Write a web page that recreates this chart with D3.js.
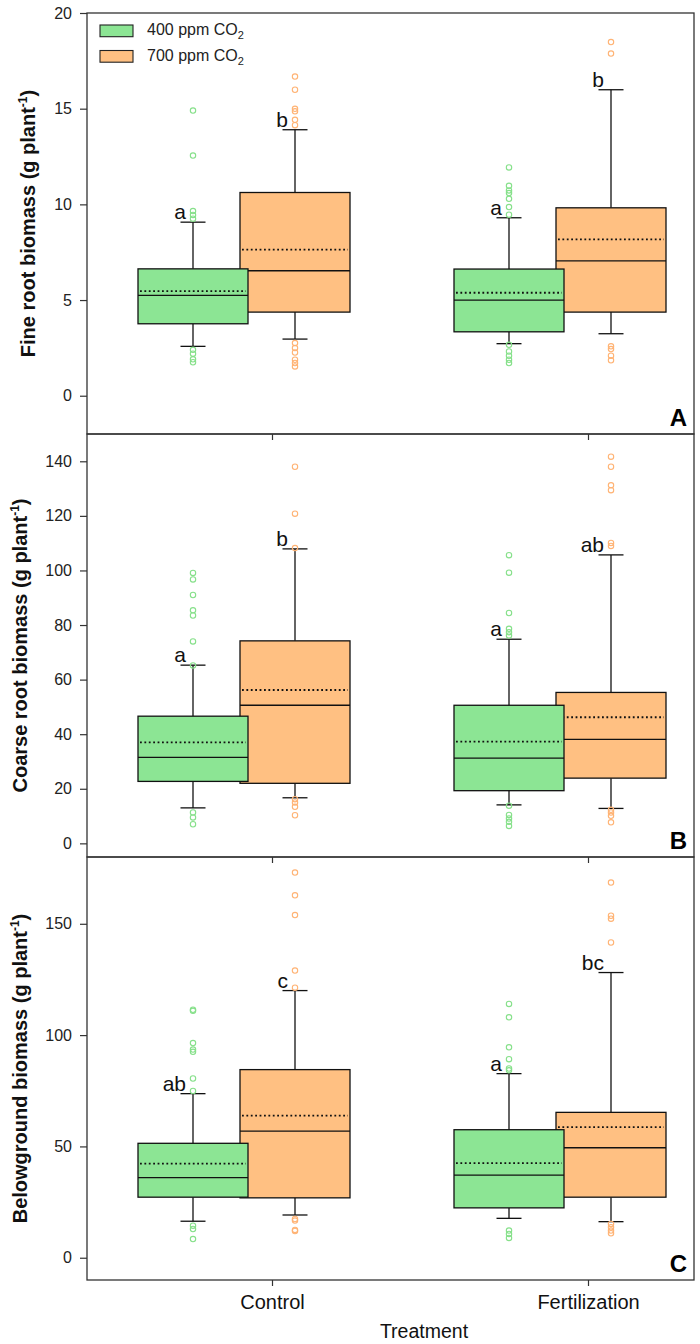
<!DOCTYPE html>
<html><head><meta charset="utf-8">
<script src="https://cdnjs.cloudflare.com/ajax/libs/d3/7.8.5/d3.min.js"></script>
<style>
html,body{margin:0;padding:0;background:#fff;}
svg{display:block;font-family:"Liberation Sans",Arial,sans-serif;}
</style></head>
<body><svg id="chart" width="700" height="1344"></svg>
<script>
// ---------- DATA ----------
const categories = ["Control", "Fertilization"];
const groups = ["400 ppm CO2", "700 ppm CO2"];

// Panel A: fine root biomass. each box: [category, group, lowWhisker, q1, median, q3, highWhisker, mean, letter]
const fineBoxes = [
  ["Control", "700 ppm CO2", 2.96, 4.37, 6.53, 10.62, 13.9, 7.63, "b"],
  ["Control", "400 ppm CO2", 2.58, 3.76, 5.24, 6.63, 9.07, 5.47, "a"],
  ["Fertilization", "700 ppm CO2", 3.24, 4.37, 7.05, 9.82, 15.99, 8.17, "b"],
  ["Fertilization", "400 ppm CO2", 2.72, 3.34, 5.0, 6.62, 9.3, 5.38, "a"]
];
const fineOutliers = [
  ["Control", "400 ppm CO2", [14.9, 12.55, 9.65, 9.45, 9.25, 2.4, 2.2, 1.9, 1.75]],
  ["Control", "700 ppm CO2", [16.68, 15.99, 14.99, 14.86, 14.42, 14.14, 2.75, 2.49, 2.26, 1.88, 1.71, 1.53]],
  ["Fertilization", "400 ppm CO2", [11.93, 10.97, 10.73, 10.59, 10.29, 9.86, 9.46, 2.66, 2.31, 2.09, 1.88, 1.71]],
  ["Fertilization", "700 ppm CO2", [18.48, 17.88, 2.58, 2.44, 2.09, 1.85]]
];

// Panel B: coarse root biomass
const coarseBoxes = [
  ["Control", "700 ppm CO2", 16.7, 22.0, 50.6, 74.2, 107.9, 56.2, "b"],
  ["Control", "400 ppm CO2", 13.0, 22.7, 31.5, 46.6, 65.3, 37.0, "a"],
  ["Fertilization", "700 ppm CO2", 12.8, 23.9, 38.1, 55.3, 105.7, 46.2, "ab"],
  ["Fertilization", "400 ppm CO2", 14.1, 19.3, 31.2, 50.6, 74.8, 37.3, "a"]
];
const coarseOutliers = [
  ["Control", "400 ppm CO2", [99.1, 96.7, 91.0, 85.4, 83.5, 74.0, 65.2, 11.3, 9.5, 7.0]],
  ["Control", "700 ppm CO2", [138.0, 120.8, 108.2, 16.2, 15.0, 13.4, 10.3]],
  ["Fertilization", "400 ppm CO2", [105.6, 99.2, 84.4, 78.6, 77.4, 76.2, 13.8, 10.4, 9.1, 7.9, 6.4]],
  ["Fertilization", "700 ppm CO2", [141.7, 138.0, 131.2, 129.4, 110.1, 109.0, 12.3, 11.3, 10.1, 7.7]]
];

// Panel C: belowground biomass
const belowBoxes = [
  ["Control", "700 ppm CO2", 19.2, 26.9, 56.9, 84.5, 120.0, 63.8, "c"],
  ["Control", "400 ppm CO2", 16.4, 27.2, 36.0, 51.4, 73.7, 42.3, "ab"],
  ["Fertilization", "700 ppm CO2", 16.2, 27.2, 49.4, 65.3, 128.1, 58.7, "bc"],
  ["Fertilization", "400 ppm CO2", 17.7, 22.4, 37.1, 57.5, 82.7, 42.5, "a"]
];
const belowOutliers = [
  ["Control", "400 ppm CO2", [111.4, 110.9, 96.4, 93.5, 92.5, 80.5, 74.9, 14.4, 12.9, 8.4]],
  ["Control", "700 ppm CO2", [173.0, 162.8, 153.9, 129.0, 121.3, 17.4, 16.7, 12.5, 12.0]],
  ["Fertilization", "400 ppm CO2", [114.0, 108.0, 94.5, 89.2, 85.0, 84.2, 12.2, 10.7, 8.9]],
  ["Fertilization", "700 ppm CO2", [168.5, 153.6, 152.3, 141.6, 15.2, 13.7, 12.2, 11.0]]
];

const fineTicks = [0, 5, 10, 15, 20];
const coarseTicks = [0, 20, 40, 60, 80, 100, 120, 140];
const belowTicks = [0, 50, 100, 150];

const panelLetters = ["A", "B", "C"];
const yTitles = ["Fine root biomass (g plant", "Coarse root biomass (g plant", "Belowground biomass (g plant"];
const xTitle = "Treatment";

// ---------- LAYOUT ----------
const svg = d3.select("#chart");
const frameL = 87, frameR = 694;
const fills = {"400 ppm CO2": "#8ce594", "700 ppm CO2": "#ffc082"};
const outlierColors = {"400 ppm CO2": "#86e08a", "700 ppm CO2": "#ffb374"};
const groupOffset = {"400 ppm CO2": -79, "700 ppm CO2": 23};
const boxW = 110, capW = 25;

const x = d3.scalePoint().domain(categories).range([272, 588]);

const panels = [
  {boxes: fineBoxes, outs: fineOutliers, ticks: fineTicks, domain: [-2, 20], top: 13, bottom: 434, titleX: 35},
  {boxes: coarseBoxes, outs: coarseOutliers, ticks: coarseTicks, domain: [-5, 150], top: 434, bottom: 857, titleX: 27},
  {boxes: belowBoxes, outs: belowOutliers, ticks: belowTicks, domain: [-10, 180], top: 857, bottom: 1280, titleX: 27}
];

panels.forEach((p, i) => {
  const y = d3.scaleLinear().domain(p.domain).range([p.bottom, p.top]);
  const g = svg.append("g");

  // boxes (orange first, then green on top)
  p.boxes.forEach(b => {
    const [cat, grp, lo, q1, med, q3, hi, mean, letter] = b;
    const cx = x(cat) + groupOffset[grp];
    const bg = g.append("g");
    bg.append("line").attr("x1", cx).attr("x2", cx).attr("y1", y(q3)).attr("y2", y(hi)).attr("stroke", "#111").attr("stroke-width", 1.3);
    bg.append("line").attr("x1", cx).attr("x2", cx).attr("y1", y(q1)).attr("y2", y(lo)).attr("stroke", "#111").attr("stroke-width", 1.3);
    bg.append("line").attr("x1", cx - capW / 2).attr("x2", cx + capW / 2).attr("y1", y(hi)).attr("y2", y(hi)).attr("stroke", "#111").attr("stroke-width", 1.3);
    bg.append("line").attr("x1", cx - capW / 2).attr("x2", cx + capW / 2).attr("y1", y(lo)).attr("y2", y(lo)).attr("stroke", "#111").attr("stroke-width", 1.3);
    bg.append("rect").attr("x", cx - boxW / 2).attr("width", boxW)
      .attr("y", y(q3)).attr("height", y(q1) - y(q3))
      .attr("fill", fills[grp]).attr("stroke", "#111").attr("stroke-width", 1.3);
    bg.append("line").attr("x1", cx - boxW / 2).attr("x2", cx + boxW / 2).attr("y1", y(med)).attr("y2", y(med)).attr("stroke", "#111").attr("stroke-width", 1.3);
    bg.append("line").attr("x1", cx - boxW / 2 + 2).attr("x2", cx + boxW / 2 - 2).attr("y1", y(mean)).attr("y2", y(mean))
      .attr("stroke", "#111").attr("stroke-width", 1.8).attr("stroke-dasharray", "1.8,2.6");
    g.append("text").attr("x", cx - 7).attr("y", y(hi) - 3).attr("text-anchor", "end")
      .attr("font-size", 21).attr("fill", "#111").text(letter);
  });

  // outliers
  p.outs.forEach(o => {
    const [cat, grp, vals] = o;
    const cx = x(cat) + groupOffset[grp];
    g.selectAll(null).data(vals).enter().append("circle")
      .attr("cx", cx).attr("cy", d => y(d)).attr("r", 2.7)
      .attr("fill", "none").attr("stroke", outlierColors[grp]).attr("stroke-width", 1.1);
  });

  // frame
  g.append("rect").attr("x", frameL).attr("y", p.top).attr("width", frameR - frameL).attr("height", p.bottom - p.top)
    .attr("fill", "none").attr("stroke", "#333").attr("stroke-width", 1.3);

  // y axis
  const yAxis = d3.axisLeft(y).tickValues(p.ticks).tickSize(7).tickPadding(8);
  const ya = g.append("g").attr("transform", `translate(${frameL},0)`).call(yAxis);
  ya.select(".domain").remove();
  ya.selectAll(".tick line").attr("stroke", "#333").attr("stroke-width", 1.2);
  ya.selectAll(".tick text").attr("font-size", 16).attr("fill", "#222").attr("font-family", "Liberation Sans, Arial, sans-serif");

  // x axis ticks
  const xAxis = d3.axisBottom(x).tickSize(6).tickPadding(9).tickFormat(i === 2 ? (d => d) : () => "");
  const xa = g.append("g").attr("transform", `translate(0,${p.bottom})`).call(xAxis);
  xa.select(".domain").remove();
  xa.selectAll(".tick line").attr("stroke", "#333").attr("stroke-width", 1.2);
  xa.selectAll(".tick text").attr("font-size", 20).attr("fill", "#111").attr("font-family", "Liberation Sans, Arial, sans-serif");

  // y title
  const cy = (p.top + p.bottom) / 2;
  const t = g.append("text").attr("transform", `translate(${p.titleX},${cy}) rotate(-90)`)
    .attr("text-anchor", "middle").attr("font-size", 20).attr("font-weight", "bold").attr("fill", "#111");
  t.append("tspan").text(yTitles[i]);
  t.append("tspan").attr("font-size", 12).attr("dy", -8).text("-1");
  t.append("tspan").attr("dy", 8).text(")");

  // panel letter
  g.append("text").attr("x", 687).attr("y", p.bottom - 8).attr("text-anchor", "end")
    .attr("font-size", 24).attr("font-weight", "bold").attr("fill", "#000").text(panelLetters[i]);
});

// legend
const legend = svg.append("g");
groups.forEach((grp, i) => {
  const ly = 25 + i * 25.5;
  legend.append("rect").attr("x", 100).attr("y", ly).attr("width", 33).attr("height", 11.7)
    .attr("fill", fills[grp]).attr("stroke", "#222").attr("stroke-width", 1.1);
  const tx = legend.append("text").attr("x", 147).attr("y", ly + 10).attr("font-size", 16).attr("fill", "#222");
  tx.append("tspan").text(grp.replace("CO2", "CO"));
  tx.append("tspan").attr("font-size", 11).attr("dy", 4).text("2");
});

// x title
svg.append("text").attr("x", 424).attr("y", 1338).attr("text-anchor", "middle")
  .attr("font-size", 19.5).attr("fill", "#111").text(xTitle);
</script></body></html>
